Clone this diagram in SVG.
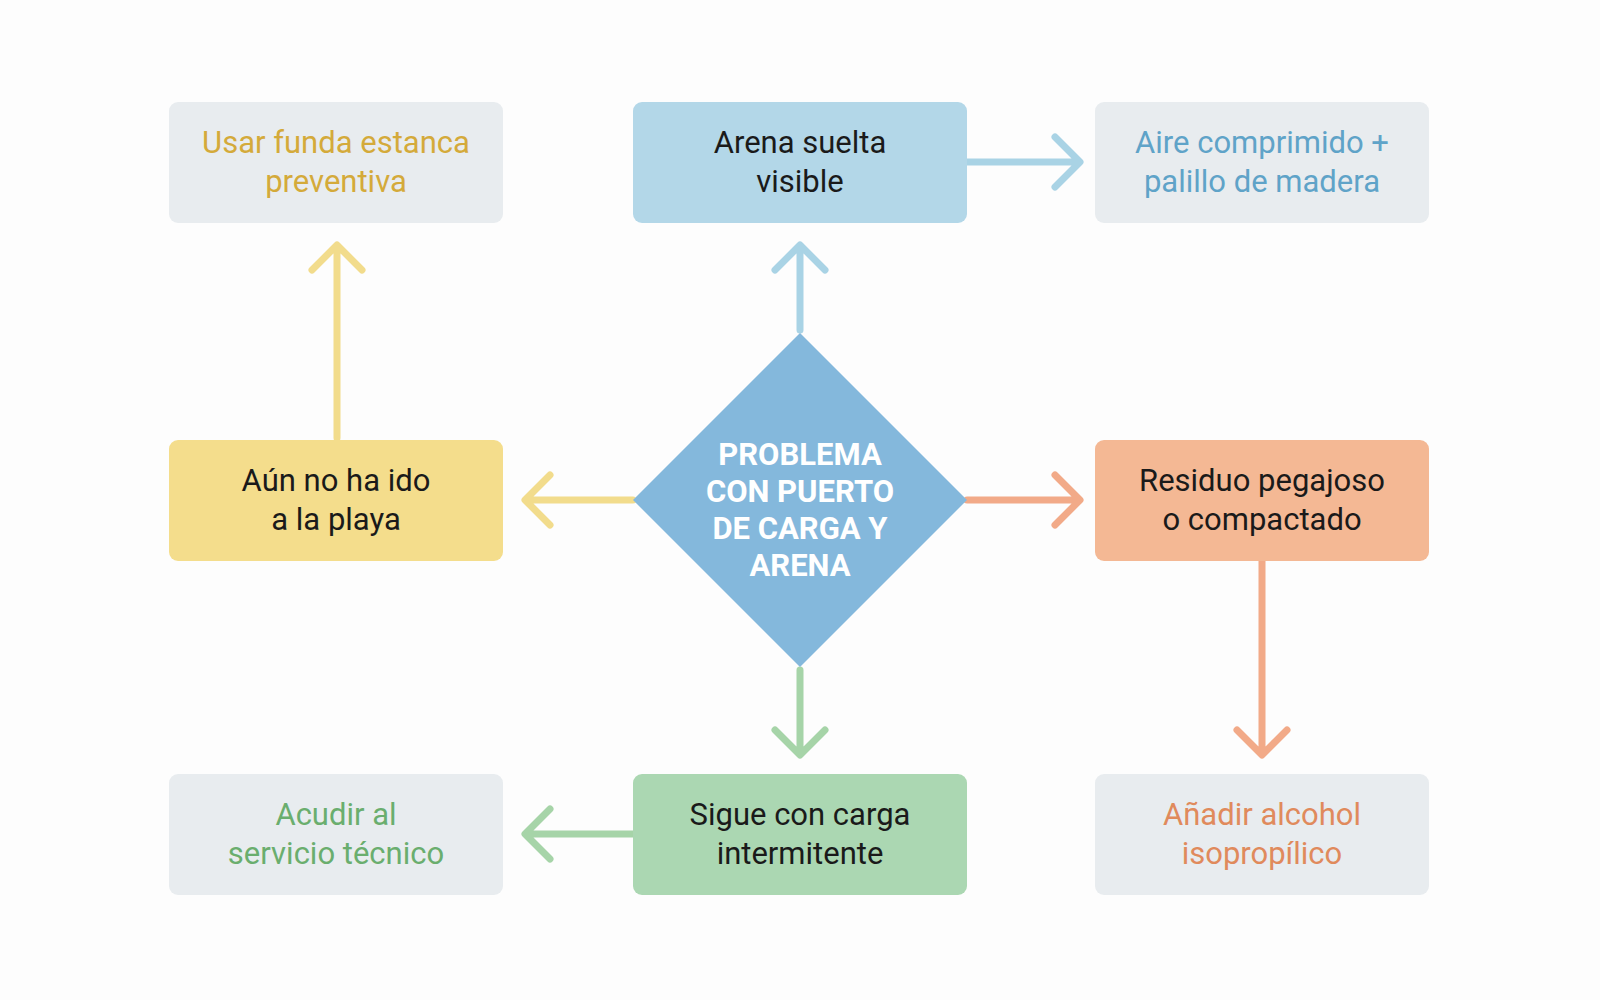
<svg xmlns="http://www.w3.org/2000/svg" width="1600" height="1000" viewBox="0 0 1600 1000">
<style>
text{font-family:Roboto,"Liberation Sans",sans-serif;font-size:31px;text-anchor:middle}
.d{fill:#1a1a1a}
.c{fill:none;stroke-width:7;stroke-linecap:round;stroke-linejoin:round}
.g{fill:#e8ecef}
</style>
<rect width="1600" height="1000" fill="#fdfdfd"/>
<g id="connectors">
<g class="c" stroke="#f2dc8c"><path d="M337 438V248M312 270L337 245L362 270"/><path d="M633 500H528M550 475L525 500L550 525"/></g>
<g class="c" stroke="#a9d3e5"><path d="M800 330V248M775 270L800 245L825 270"/><path d="M967 162H1077M1055 137L1080 162L1055 187"/></g>
<g class="c" stroke="#f2aa88"><path d="M967 500H1077M1055 475L1080 500L1055 525"/><path d="M1262 561V752M1237 730L1262 755L1287 730"/></g>
<g class="c" stroke="#a6d4a8"><path d="M800 670V752M775 730L800 755L825 730"/><path d="M633 834H528M550 809L525 834L550 859"/></g>
</g>
<g id="n-top-left"><rect class="g" x="169" y="102" width="334" height="121" rx="9"/><text fill="#d4aa3a"><tspan x="336" y="153">Usar funda estanca</tspan><tspan x="336" y="192">preventiva</tspan></text></g>
<g id="n-top-mid"><rect fill="#b3d7e8" x="633" y="102" width="334" height="121" rx="9"/><text class="d"><tspan x="800" y="153">Arena suelta</tspan><tspan x="800" y="192">visible</tspan></text></g>
<g id="n-top-right"><rect class="g" x="1095" y="102" width="334" height="121" rx="9"/><text fill="#5fa3c8"><tspan x="1262" y="153">Aire comprimido +</tspan><tspan x="1262" y="192">palillo de madera</tspan></text></g>
<g id="n-mid-left"><rect fill="#f4dd8c" x="169" y="440" width="334" height="121" rx="9"/><text class="d"><tspan x="336" y="491">Aún no ha ido</tspan><tspan x="336" y="530">a la playa</tspan></text></g>
<g id="n-center"><polygon fill="#84b8dc" points="800,333 967,500 800,667 633,500"/><text fill="#fff" font-weight="bold" font-size="28"><tspan x="800" y="465">PROBLEMA</tspan><tspan x="800" y="502">CON PUERTO</tspan><tspan x="800" y="539">DE CARGA Y</tspan><tspan x="800" y="576">ARENA</tspan></text></g>
<g id="n-mid-right"><rect fill="#f4b894" x="1095" y="440" width="334" height="121" rx="9"/><text class="d"><tspan x="1262" y="491">Residuo pegajoso</tspan><tspan x="1262" y="530">o compactado</tspan></text></g>
<g id="n-bot-left"><rect class="g" x="169" y="774" width="334" height="121" rx="9"/><text fill="#6aae6e"><tspan x="336" y="825">Acudir al</tspan><tspan x="336" y="864">servicio técnico</tspan></text></g>
<g id="n-bot-mid"><rect fill="#abd7b2" x="633" y="774" width="334" height="121" rx="9"/><text class="d"><tspan x="800" y="825">Sigue con carga</tspan><tspan x="800" y="864">intermitente</tspan></text></g>
<g id="n-bot-right"><rect class="g" x="1095" y="774" width="334" height="121" rx="9"/><text fill="#e08a5c"><tspan x="1262" y="825">Añadir alcohol</tspan><tspan x="1262" y="864">isopropílico</tspan></text></g>
</svg>
